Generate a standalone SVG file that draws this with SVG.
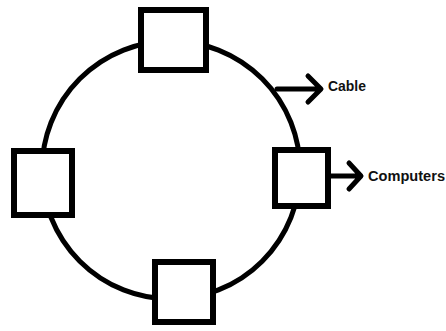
<svg xmlns="http://www.w3.org/2000/svg" width="446" height="331" viewBox="0 0 446 331">
  <style>
    .ring { fill: none; stroke: #000; stroke-width: 5; }
    .node { fill: #fff; stroke: #000; stroke-width: 6; }
    .pointer { fill: none; stroke: #000; stroke-width: 5; stroke-linecap: round; stroke-linejoin: round; }
    .label { font-family: "Liberation Sans", Arial, sans-serif; font-weight: bold; font-size: 14.5px; fill: #111; }
  </style>
  <rect width="446" height="331" fill="#fff"/>
  <g id="connectors">
    <circle class="ring" cx="171" cy="170" r="129"/>
    <path class="pointer" d="M277 89 H320 M308 76 L321 89 L308 102"/>
    <path class="pointer" d="M331 176 H360 M349 163 L361 176 L349 189"/>
  </g>
  <g id="node-top"><rect class="node" x="141" y="10" width="65" height="60"/></g>
  <g id="node-left"><rect class="node" x="14" y="151" width="58" height="64"/></g>
  <g id="node-bottom"><rect class="node" x="155" y="262" width="58" height="60"/></g>
  <g id="node-right"><rect class="node" x="275" y="150" width="53" height="56"/></g>
  <g id="labels">
    <text class="label" x="328" y="91" textLength="38" lengthAdjust="spacingAndGlyphs">Cable</text>
    <text class="label" x="368" y="181" textLength="77" lengthAdjust="spacingAndGlyphs">Computers</text>
  </g>
</svg>
